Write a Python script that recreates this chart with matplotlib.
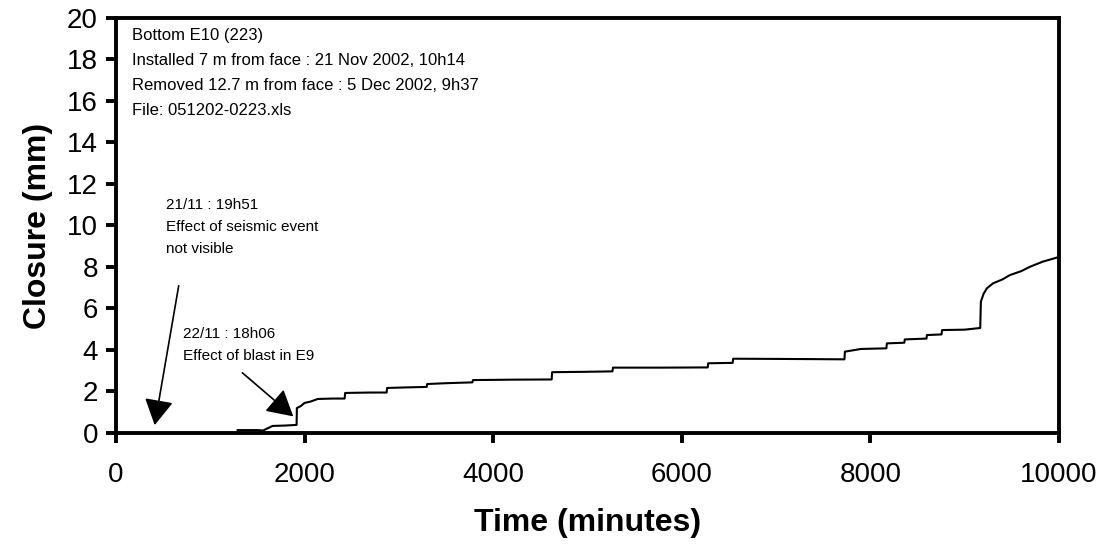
import matplotlib
matplotlib.use("Agg")
import matplotlib.pyplot as plt

# Closure record (minutes since installation, mm)
time_min = [1290, 1500, 1560, 1660, 1800, 1915, 1918, 1960, 2000, 2060, 2140, 2300, 2425,
            2430, 2700, 2870, 2875, 3100, 3295, 3300, 3500, 3780, 3785, 4200, 4620,
            4625, 5000, 5265, 5270, 5800, 6275, 6280, 6540, 6545, 7000, 7400, 7725,
            7730, 7900, 8170, 8175, 8360, 8365, 8595, 8600, 8755, 8760, 9000, 9165,
            9172, 9200, 9235, 9300, 9400, 9480, 9600, 9692, 9830, 9900, 9990]
closure_mm = [0.14, 0.14, 0.12, 0.34, 0.36, 0.39, 1.20, 1.30, 1.45, 1.51, 1.64, 1.66, 1.66,
              1.93, 1.95, 1.95, 2.17, 2.20, 2.22, 2.36, 2.40, 2.44, 2.55, 2.57, 2.58,
              2.93, 2.95, 2.97, 3.15, 3.15, 3.16, 3.36, 3.38, 3.58, 3.57, 3.56, 3.55,
              3.92, 4.05, 4.08, 4.32, 4.35, 4.51, 4.55, 4.72, 4.75, 4.96, 4.98, 5.06,
              6.33, 6.70, 6.97, 7.21, 7.40, 7.61, 7.80, 8.01, 8.26, 8.35, 8.47]

x_ticks = [0, 2000, 4000, 6000, 8000, 10000]
y_ticks = list(range(0, 21, 2))

info_lines = ["Bottom E10 (223)",
              "Installed 7 m from face : 21 Nov 2002, 10h14",
              "Removed 12.7 m from face : 5 Dec 2002, 9h37",
              "File: 051202-0223.xls"]

plt.rcParams['font.family'] = ['Liberation Sans', 'DejaVu Sans']

fig = plt.figure(figsize=(11.07, 5.53), dpi=100)
ax = fig.add_axes([0.1048, 0.217, 0.8518, 0.7505])

ax.plot(time_min, closure_mm, color='black', lw=1.5)

ax.set_xlim(0, 10000)
ax.set_ylim(0, 20)
ax.set_xticks(x_ticks)
ax.set_yticks(y_ticks)
for s in ax.spines.values():
    s.set_linewidth(2.8)
ax.tick_params(direction='out', length=7, width=2.8, labelsize=20, pad=6)
ax.tick_params(axis='x', pad=14)

ax.set_xlabel("Time (minutes)", fontsize=23, fontweight='bold', labelpad=14)
ax.set_ylabel("Closure (mm)", fontsize=23, fontweight='bold', labelpad=10)

# Header block in the upper-left corner
for i, line in enumerate(info_lines):
    ax.text(0.017, 0.957 - i * 0.06, line, transform=ax.transAxes,
            fontsize=12, va='center', ha='left')

# Event annotations
arrow_kw = dict(arrowstyle='-|>,head_length=0.5,head_width=0.28', mutation_scale=32,
                lw=1.2, color='black', shrinkA=0, shrinkB=0)
ax.annotate("", xy=(410, 0.38), xytext=(665, 7.1), arrowprops=arrow_kw)
for i, line in enumerate(["21/11 : 19h51", "Effect of seismic event", "not visible"]):
    ax.text(530, 11.0 - i * 1.06, line, fontsize=11, va='center', ha='left')

ax.annotate("", xy=(1880, 0.8), xytext=(1340, 2.9), arrowprops=arrow_kw)
for i, line in enumerate(["22/11 : 18h06", "Effect of blast in E9"]):
    ax.text(710, 4.75 - i * 1.06, line, fontsize=11, va='center', ha='left')

fig.savefig("out.png", dpi=100)
